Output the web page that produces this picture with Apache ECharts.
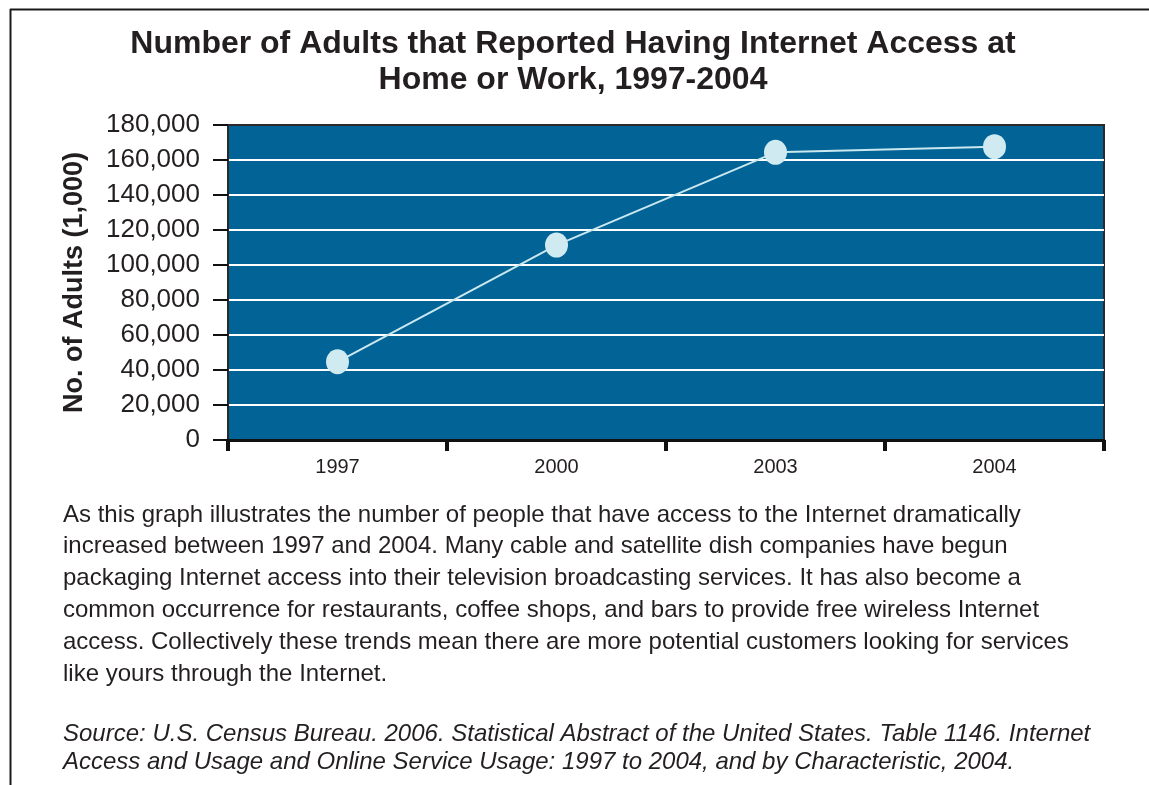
<!DOCTYPE html>
<html>
<head>
<meta charset="utf-8">
<script src="https://cdn.jsdelivr.net/npm/echarts@6/dist/echarts.min.js"></script>
<style>
html,body{margin:0;padding:0;background:#fff;}
#chart{width:1149px;height:785px;}
</style>
</head>
<body>
<div id="chart"></div>
<script>
const titleLines = ["Number of Adults that Reported Having Internet Access at", "Home or Work, 1997-2004"];
const categories = ["1997", "2000", "2003", "2004"];
const adults = [44700, 111400, 164400, 167600];
const yAxisName = "No. of Adults (1,000)";
const bodyLines = [
  "As this graph illustrates the number of people that have access to the Internet dramatically",
  "increased between 1997 and 2004. Many cable and satellite dish companies have begun",
  "packaging Internet access into their television broadcasting services. It has also become a",
  "common occurrence for restaurants, coffee shops, and bars to provide free wireless Internet",
  "access. Collectively these trends mean there are more potential customers looking for services",
  "like yours through the Internet."
];
const sourceLines = [
  "Source: U.S. Census Bureau. 2006. Statistical Abstract of the United States. Table 1146. Internet",
  "Access and Usage and Online Service Usage: 1997 to 2004, and by Characteristic, 2004."
];

const FONT = "'Liberation Sans', Arial, sans-serif";
const chart = echarts.init(document.getElementById('chart'), null, {renderer: 'canvas'});

const graphics = [
  {type: 'line', shape: {x1: 10, y1: 9.5, x2: 1149, y2: 9.5}, style: {stroke: '#1a1a1a', lineWidth: 2}, silent: true},
  {type: 'line', shape: {x1: 10.5, y1: 9, x2: 10.5, y2: 785}, style: {stroke: '#1a1a1a', lineWidth: 2}, silent: true}
];
bodyLines.forEach((t, i) => {
  graphics.push({type: 'text', left: 63, top: 503 + i * 31.8,
    style: {text: t, font: "24px " + FONT, fill: '#231f20'}});
});
sourceLines.forEach((t, i) => {
  graphics.push({type: 'text', left: 63, top: 722 + i * 28,
    style: {text: t, font: "italic 24px " + FONT, fill: '#231f20'}});
});

chart.setOption({
  animation: false,
  textStyle: {fontFamily: FONT},
  title: {
    text: titleLines.join('\n'),
    left: 568, top: 21, textAlign: 'center',
    textStyle: {fontSize: 32, fontWeight: 'bold', color: '#231f20', lineHeight: 36, fontFamily: FONT}
  },
  grid: {
    left: 228, right: 45, top: 125, bottom: 345,
    show: true, backgroundColor: '#026396', borderColor: '#2a2a2a', borderWidth: 2
  },
  xAxis: {
    type: 'category', data: categories, boundaryGap: true,
    axisLine: {lineStyle: {color: '#111', width: 3}},
    axisTick: {show: true, alignWithLabel: false, length: 11, lineStyle: {color: '#111', width: 4}},
    axisLabel: {fontSize: 20, color: '#231f20', margin: 17, fontFamily: FONT}
  },
  yAxis: {
    type: 'value', min: 0, max: 180000, interval: 20000,
    name: yAxisName, nameLocation: 'middle', nameGap: 140, nameRotate: 90,
    nameTextStyle: {fontSize: 27, fontWeight: 'bold', color: '#231f20', fontFamily: FONT},
    axisLine: {show: true, lineStyle: {color: '#2a2a2a', width: 2}},
    axisTick: {show: true, length: 15, lineStyle: {color: '#111', width: 2}},
    axisLabel: {fontSize: 26, color: '#231f20', margin: 28, fontFamily: FONT,
      formatter: v => v.toLocaleString('en-US')},
    splitLine: {show: true, showMinLine: false, showMaxLine: false, lineStyle: {color: '#ffffff', width: 2}}
  },
  series: [{
    type: 'line', data: adults,
    symbol: 'circle', symbolSize: [23, 25],
    lineStyle: {color: '#c9e8ef', width: 2},
    itemStyle: {color: '#cfeaf1'},
    z: 5
  }],
  graphic: graphics
});
</script>
</body>
</html>
